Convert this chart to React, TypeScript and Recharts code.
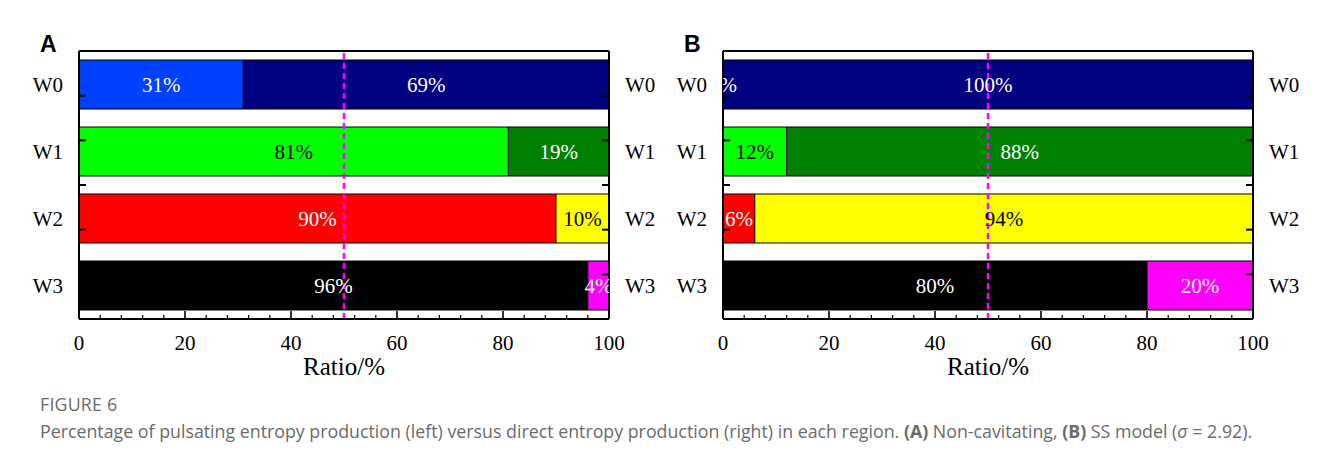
import React from 'react';
import * as Recharts from 'recharts';
import {
  BarChart,
  Bar,
  Cell,
  XAxis,
  YAxis,
  LabelList,
  ReferenceLine,
  Label,
} from 'recharts';

// regions, top to bottom
const regions = ['W0', 'W1', 'W2', 'W3'];

// (A) non-cavitating: pulsating (left) vs direct (right), in %
const pulsatingA = [31, 81, 90, 96];
const directA = [69, 19, 10, 4];

// (B) SS model
const pulsatingB = [0, 12, 6, 80];
const directB = [100, 88, 94, 20];

const pulsatingColors = ['#0041ff', '#00ff00', '#ff0000', '#000000'];
const directColors = ['#000080', '#008000', '#ffff00', '#ff00ff'];

const xTicks = [0, 20, 40, 60, 80, 100];
const xMinorTicks = [4, 8, 12, 16, 24, 28, 32, 36, 44, 48, 52, 56, 64, 68, 72, 76, 84, 88, 92, 96];
// y ticks on a 0..4 scale: band edges and band centres
const yTicks = [0, 0.5, 1, 1.5, 2, 2.5, 3, 3.5, 4];

const serif = '"Liberation Serif", "Times New Roman", serif';
const lightFills = ['#00ff00', '#ffff00'];

// inward tick marks, drawn as reference-line shapes so they sit above the bars
const yTickShape = (len: number) => (p: any) => {
  const l = Math.min(p.x1, p.x2);
  const r = Math.max(p.x1, p.x2);
  return (
    <g>
      <line x1={l} x2={l + len} y1={p.y1} y2={p.y1} stroke="#000" strokeWidth={2} />
      <line x1={r - len} x2={r} y1={p.y1} y2={p.y1} stroke="#000" strokeWidth={2} />
    </g>
  );
};

const xTickShape = (len: number, width: number) => (p: any) => {
  const b = Math.max(p.y1, p.y2);
  return <line x1={p.x1} x2={p.x1} y1={b} y2={b - len} stroke="#000" strokeWidth={width} />;
};

function PlotClip({ id }: { id: string }) {
  const hook = (Recharts as any).usePlotArea;
  const area = hook ? hook() : null;
  const r = area ?? { x: 79, y: 51, width: 530, height: 268 };
  return (
    <defs>
      <clipPath id={id}>
        <rect x={r.x} y={r.y} width={r.width} height={r.height} />
      </clipPath>
    </defs>
  );
}

function PctText({ cx, cy, value, color }: { cx: number; cy: number; value: number; color: string }) {
  return (
    <text
      x={cx}
      y={cy}
      textAnchor="middle"
      dominantBaseline="central"
      fill={lightFills.includes(color) ? '#000' : '#fff'}
      fontFamily={serif}
      fontSize={21}
    >
      {`${value}%`}
    </text>
  );
}

// value passed to the label is the row index
const makeLabel = (
  values: number[],
  colors: string[],
  clipId: string,
  before?: { values: number[]; colors: string[] }
) => (props: any) => {
  const { x, y, width, height, value } = props;
  const i = Number(value);
  const cy = Number(y) + Number(height) / 2;
  return (
    <g clipPath={`url(#${clipId})`}>
      {before && before.values[i] === 0 && (
        <PctText cx={Number(x)} cy={cy} value={0} color={before.colors[i]} />
      )}
      <PctText cx={Number(x) + Number(width) / 2} cy={cy} value={values[i]} color={colors[i]} />
    </g>
  );
};

interface PanelProps {
  letter: string;
  left: number;
  pulsating: number[];
  direct: number[];
}

function Panel({ letter, left, pulsating, direct }: PanelProps) {
  const data = regions.map((name, i) => ({ name, pulsating: pulsating[i], direct: direct[i] }));
  const clipId = `plot-clip-${letter}`;
  const tickFont = { fill: '#000', fontSize: 21, fontFamily: serif };
  const rowIndex = (d: any) => regions.indexOf(d.name);
  return (
    <div style={{ position: 'absolute', left, top: 0 }}>
      <div
        style={{
          position: 'absolute',
          left: 40,
          top: 31,
          fontFamily: '"Liberation Sans", Arial, sans-serif',
          fontWeight: 'bold',
          fontSize: 23,
          color: '#000',
        }}
      >
        {letter}
      </div>
      <BarChart
        width={663}
        height={400}
        data={data}
        layout="vertical"
        margin={{ top: 51, right: 0, bottom: 21, left: 19 }}
        barSize={49}
      >
        <PlotClip id={clipId} />
        <XAxis
          xAxisId="x"
          type="number"
          domain={[0, 100]}
          ticks={xTicks}
          height={60}
          tickLine={false}
          axisLine={{ stroke: '#000', strokeWidth: 2 }}
          tick={tickFont}
          tickMargin={10}
        >
          <Label
            value="Ratio/%"
            position="insideBottom"
            offset={4}
            style={{ fill: '#000', fontSize: 25, fontFamily: serif }}
          />
        </XAxis>
        <XAxis
          xAxisId="xTop"
          type="number"
          orientation="top"
          domain={[0, 100]}
          mirror
          height={1}
          tick={false}
          tickLine={false}
          axisLine={{ stroke: '#000', strokeWidth: 2 }}
        />
        <YAxis
          yAxisId="y"
          type="category"
          dataKey="name"
          width={60}
          tickLine={false}
          axisLine={{ stroke: '#000', strokeWidth: 2 }}
          tick={tickFont}
          tickMargin={10}
        />
        <YAxis
          yAxisId="yR"
          type="category"
          dataKey="name"
          orientation="right"
          width={54}
          tickLine={false}
          axisLine={{ stroke: '#000', strokeWidth: 2 }}
          tick={{ ...tickFont, textAnchor: 'start' }}
          tickMargin={10}
        />
        <YAxis yAxisId="yNum" type="number" domain={[0, 4]} hide />
        <Bar
          dataKey="pulsating"
          stackId="s"
          xAxisId="x"
          yAxisId="y"
          stroke="#000"
          strokeWidth={1}
          isAnimationActive={false}
        >
          {data.map((_, i) => (
            <Cell key={i} fill={pulsatingColors[i]} />
          ))}
          <LabelList dataKey={rowIndex} content={makeLabel(pulsating, pulsatingColors, clipId)} />
        </Bar>
        <Bar
          dataKey="direct"
          stackId="s"
          xAxisId="x"
          yAxisId="y"
          stroke="#000"
          strokeWidth={1}
          isAnimationActive={false}
        >
          {data.map((_, i) => (
            <Cell key={i} fill={directColors[i]} />
          ))}
          <LabelList
            dataKey={rowIndex}
            content={makeLabel(direct, directColors, clipId, { values: pulsating, colors: pulsatingColors })}
          />
        </Bar>
        {yTicks.map((v) => (
          <ReferenceLine key={`yt${v}`} y={v} xAxisId="x" yAxisId="yNum" shape={yTickShape(7)} />
        ))}
        {xTicks.map((v) => (
          <ReferenceLine key={`xt${v}`} x={v} xAxisId="x" yAxisId="yNum" shape={xTickShape(8, 1.6)} />
        ))}
        {xMinorTicks.map((v) => (
          <ReferenceLine key={`xm${v}`} x={v} xAxisId="x" yAxisId="yNum" shape={xTickShape(4, 1.2)} />
        ))}
        <ReferenceLine
          x={50}
          xAxisId="x"
          yAxisId="y"
          stroke="#ff00ff"
          strokeWidth={2.5}
          strokeDasharray="6 4"
        />
      </BarChart>
    </div>
  );
}

export default function App() {
  return (
    <div
      style={{
        position: 'relative',
        margin: -8,
        width: 1326,
        height: 465,
        background: '#fff',
        overflow: 'hidden',
      }}
    >
      <div
        style={{
          position: 'absolute',
          left: 4,
          top: 5,
          right: 0,
          bottom: 0,
          borderTop: '2px solid #d9d9d9',
          borderLeft: '1px solid #d9d9d9',
        }}
      />
      <Panel letter="A" left={0} pulsating={pulsatingA} direct={directA} />
      <Panel letter="B" left={644} pulsating={pulsatingB} direct={directB} />
      <div
        style={{
          position: 'absolute',
          left: 40,
          top: 392,
          fontFamily: '"Open Sans", "Noto Sans", sans-serif',
          fontSize: 17.8,
          color: '#6b6b6b',
          letterSpacing: 0.2,
        }}
      >
        FIGURE 6
      </div>
      <div
        style={{
          position: 'absolute',
          left: 40,
          top: 419,
          fontFamily: '"Open Sans", "Noto Sans", sans-serif',
          fontSize: 17.8,
          color: '#6b6b6b',
          whiteSpace: 'nowrap',
        }}
      >
        Percentage of pulsating entropy production (left) versus direct entropy production (right) in each region.{' '}
        <b>(A)</b> Non-cavitating, <b>(B)</b> SS model (<i>σ</i> = 2.92).
      </div>
    </div>
  );
}
